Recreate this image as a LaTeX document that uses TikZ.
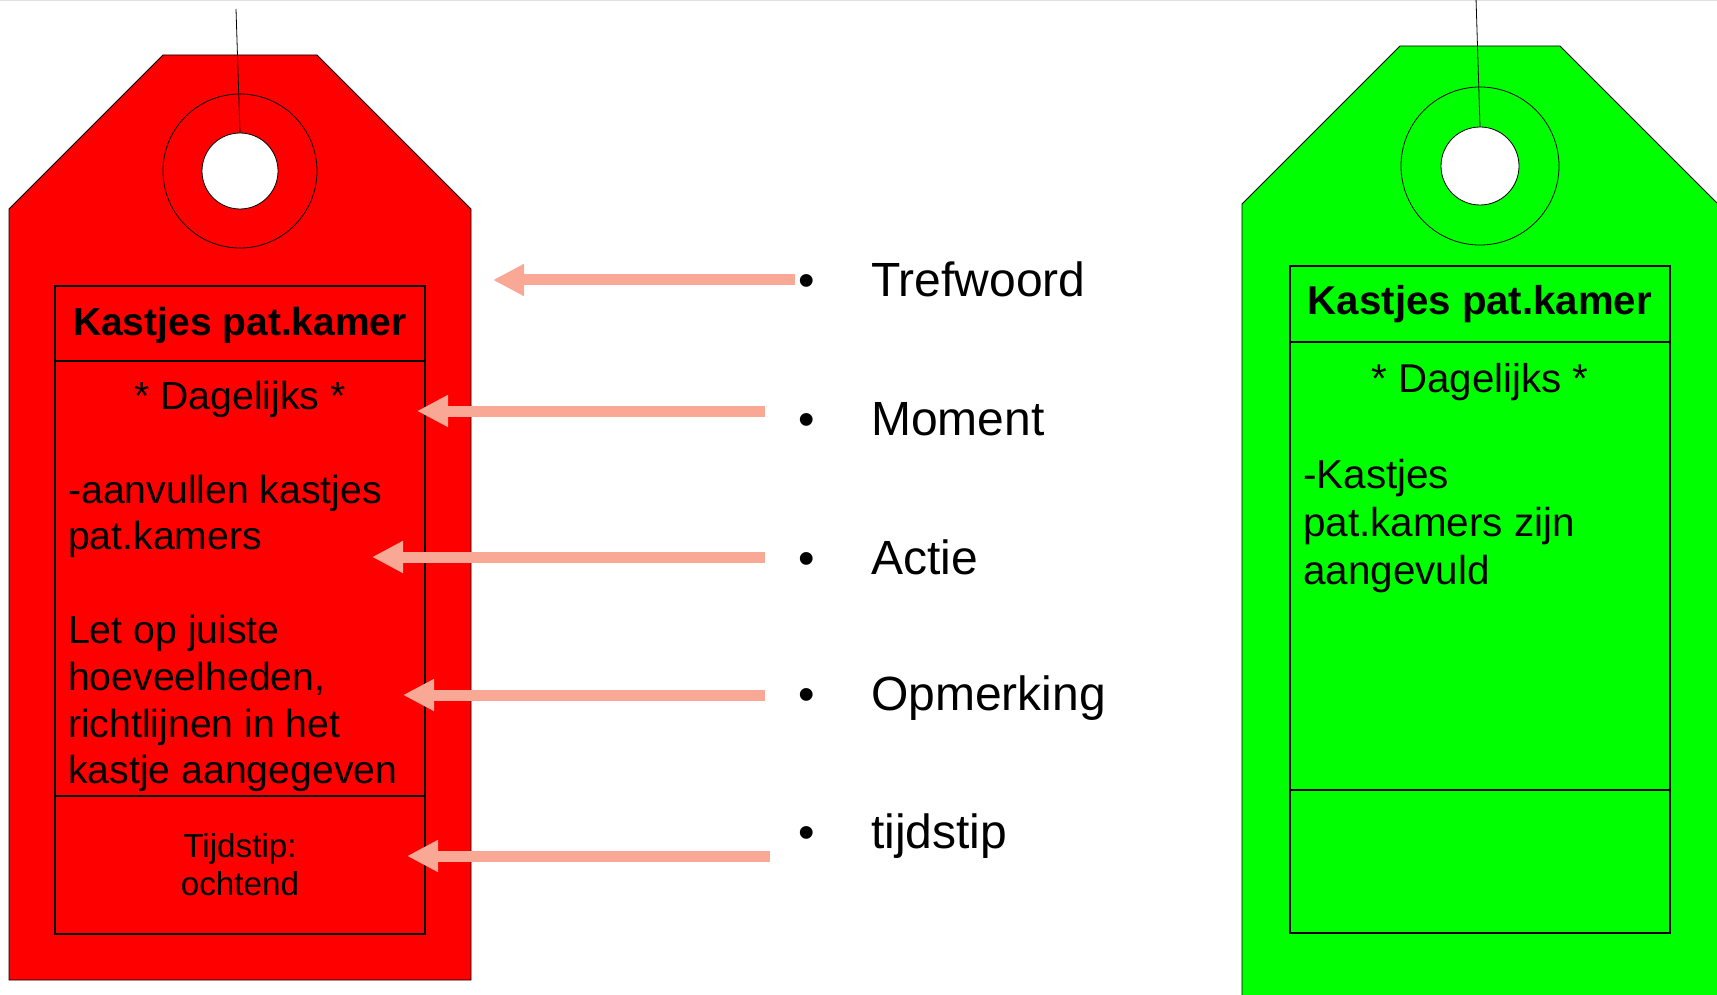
\documentclass[tikz,border=0pt]{standalone}
\usepackage{fontspec}
\setmainfont{Liberation Sans}
\usetikzlibrary{arrows.meta}
\definecolor{tagred}{RGB}{255,0,0}
\definecolor{taggreen}{RGB}{0,255,0}
\definecolor{salmon}{RGB}{248,168,148}
\begin{document}
\begin{tikzpicture}[x=1pt,y=-1pt,
  tagshape/.style={draw=black,line width=0.8pt},
  tagbox/.style={draw=black,line width=1.6pt},
  ring/.style={draw=black,line width=0.8pt},
  hole/.style={draw=black,fill=white,line width=0.8pt},
  tagstring/.style={draw=black,line width=0.8pt},
  pointer/.style={draw=salmon,line width=11pt,-{Triangle[length=31pt,width=30pt]}},
  lbl/.style={inner sep=0pt,anchor=base west,font=\fontsize{48}{56}\selectfont},
  bul/.style={inner sep=0pt,anchor=base,font=\fontsize{47}{56}\selectfont},
  titletext/.style={inner sep=0pt,anchor=base,font=\fontsize{39}{46}\selectfont\bfseries},
  bodyc/.style={inner sep=0pt,anchor=base,font=\fontsize{39.2}{46}\selectfont},
  bodyl/.style={inner sep=0pt,anchor=base west,font=\fontsize{39.2}{46}\selectfont},
  gtitletext/.style={titletext,font=\fontsize{40.2}{46}\selectfont\bfseries},
  gbodyc/.style={bodyc,font=\fontsize{40.2}{46}\selectfont},
  gbodyl/.style={bodyl,font=\fontsize{40.4}{46}\selectfont},
  smalltext/.style={inner sep=0pt,anchor=base,font=\fontsize{33.2}{38}\selectfont}
]
\clip (0,0) rectangle (1717,995);
\fill[white] (0,0) rectangle (1717,995);
\draw[black!12,line width=1.5pt] (0,0.75) -- (1717,0.75);

% ---------- red tag ----------
\draw[tagshape,fill=tagred] (163,55) -- (317,55) -- (471,209) -- (471,980) -- (9,980) -- (9,209) -- cycle;
\draw[ring] (240,171) circle[radius=77];
\draw[hole] (240,171) circle[radius=38];
\draw[tagstring] (236,9) -- (240,133);
\draw[tagbox] (55,286) rectangle (425,934);
\draw[tagbox] (55,361) -- (425,361);
\draw[tagbox] (55,796) -- (425,796);

\node[titletext] (rtitle) at (240,335) {Kastjes pat.kamer};
\node[bodyc] (rdag) at (240,409) {* Dagelijks *};
\node[bodyl] (r1) at (68,503) {-aanvullen kastjes};
\node[bodyl] (r2) at (68,549) {pat.kamers};
\node[bodyl] (r3) at (68,643) {Let op juiste};
\node[bodyl] (r4) at (68,690) {hoeveelheden,};
\node[bodyl] (r5) at (68,737) {richtlijnen in het};
\node[bodyl] (r6) at (68,783) {kastje aangegeven};
\node[smalltext] (rt1) at (240,857) {Tijdstip:};
\node[smalltext] (rt2) at (240,895) {ochtend};

% ---------- green tag ----------
\draw[tagshape,fill=taggreen] (1400,46) -- (1560,46) -- (1718,204) -- (1718,1005) -- (1242,1005) -- (1242,204) -- cycle;
\draw[ring] (1480,166) circle[radius=79];
\draw[hole] (1480,166) circle[radius=39];
\draw[tagstring] (1476,-2) -- (1480,127);
\draw[tagbox] (1290,266) rectangle (1670,933);
\draw[tagbox] (1290,342) -- (1670,342);
\draw[tagbox] (1290,790) -- (1670,790);

\node[gtitletext] (gtitle) at (1480,315) {Kastjes pat.kamer};
\node[gbodyc] (gdag) at (1480,392) {* Dagelijks *};
\node[gbodyl] (g1) at (1303,488) {-Kastjes};
\node[gbodyl] (g2) at (1303,536) {pat.kamers zijn};
\node[gbodyl] (g3) at (1303,584) {aangevuld};

% ---------- legend ----------
\node[bul] (b1) at (807,297) {•};
\node[bul] (b2) at (807,435) {•};
\node[bul] (b3) at (807,574) {•};
\node[bul] (b4) at (807,710) {•};
\node[bul] (b5) at (807,848) {•};
\node[lbl] (l1) at (871,297) {Trefwoord};
\node[lbl] (l2) at (871,435) {Moment};
\node[lbl] (l3) at (871,574) {Actie};
\node[lbl] (l4) at (871,710) {Opmerking};
\node[lbl] (l5) at (871,848) {tijdstip};

\coordinate (s1) at (795,280); \coordinate (e1) at (493,280);
\coordinate (s2) at (765,411); \coordinate (e2) at (417,411);
\coordinate (s3) at (765,557); \coordinate (e3) at (372,557);
\coordinate (s4) at (765,695); \coordinate (e4) at (403,695);
\coordinate (s5) at (770,856); \coordinate (e5) at (407,856);
\draw[pointer] (s1) -- (e1);
\draw[pointer] (s2) -- (e2);
\draw[pointer] (s3) -- (e3);
\draw[pointer] (s4) -- (e4);
\draw[pointer] (s5) -- (e5);
\end{tikzpicture}
\end{document}
